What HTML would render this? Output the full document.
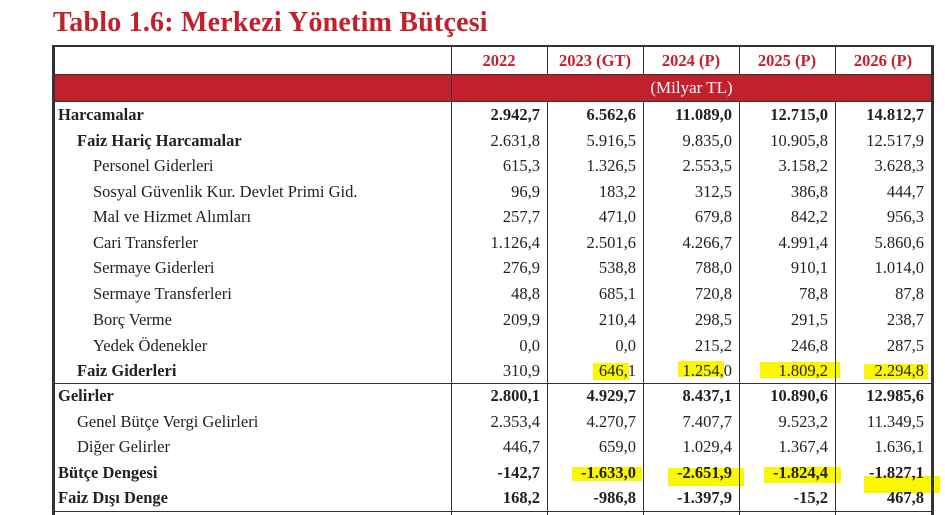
<!DOCTYPE html>
<html><head><meta charset="utf-8"><style>
body{margin:0;width:945px;height:515px;background:#fff;position:relative;overflow:hidden;font-family:"Liberation Serif",serif;color:#222}
.t{position:absolute;left:53px;top:7px;font-size:28px;font-weight:bold;color:#c3202e;letter-spacing:0.2px}
.l{position:absolute;background:#333}
.hl{position:absolute;background:#fbf700}
.r{position:absolute;left:54px;width:878px;height:25.5px;font-size:16.5px;line-height:25.5px}
.r span{position:absolute;top:0}
.lab{left:4px}
.v{text-align:right;width:88px}
.b{font-weight:bold}
.hd{position:absolute;top:47px;height:28px;line-height:28px;font-size:16.5px;font-weight:bold;color:#c3202e;text-align:center;width:96px}
</style></head><body>
<div class="t">Tablo 1.6: Merkezi Yönetim Bütçesi</div>
<div style="position:absolute;left:54px;top:75px;width:878px;height:26px;background:#c3202e"></div>
<div style="position:absolute;left:451px;top:75px;width:481px;height:26px;line-height:26px;color:#fff;text-align:center;font-size:17px">(Milyar TL)</div>
<div class="hl" style="left:593px;top:363px;width:36px;height:17px"></div>
<div class="hl" style="left:678px;top:361px;width:46px;height:16px"></div>
<div class="hl" style="left:760px;top:362px;width:80px;height:16px"></div>
<div class="hl" style="left:864px;top:364px;width:64px;height:15px"></div>
<div class="hl" style="left:572px;top:467px;width:70px;height:14px"></div>
<div class="hl" style="left:668px;top:468px;width:76px;height:18px"></div>
<div class="hl" style="left:764px;top:467px;width:77px;height:16px"></div>
<div class="hl" style="left:864px;top:476px;width:76px;height:17px"></div>
<div class="l" style="left:52px;top:45px;width:882px;height:2px"></div>
<div class="l" style="left:52px;top:45px;width:3px;height:470px"></div>
<div class="l" style="left:931px;top:45px;width:3px;height:470px"></div>
<div class="l" style="left:54px;top:74px;width:878px;height:1px"></div>
<div class="l" style="left:54px;top:101px;width:878px;height:1px"></div>
<div class="l" style="left:54px;top:383px;width:878px;height:1px"></div>
<div class="l" style="left:54px;top:511px;width:878px;height:1px"></div>
<div class="l" style="left:451px;top:47px;width:1px;height:468px"></div>
<div class="l" style="left:547px;top:47px;width:1px;height:28px"></div>
<div class="l" style="left:643px;top:47px;width:1px;height:28px"></div>
<div class="l" style="left:739px;top:47px;width:1px;height:28px"></div>
<div class="l" style="left:835px;top:47px;width:1px;height:28px"></div>
<div class="l" style="left:547px;top:101px;width:1px;height:414px"></div>
<div class="l" style="left:643px;top:101px;width:1px;height:414px"></div>
<div class="l" style="left:739px;top:101px;width:1px;height:414px"></div>
<div class="l" style="left:835px;top:101px;width:1px;height:414px"></div>
<div class="hd" style="left:451px">2022</div>
<div class="hd" style="left:547px">2023 (GT)</div>
<div class="hd" style="left:643px">2024 (P)</div>
<div class="hd" style="left:739px">2025 (P)</div>
<div class="hd" style="left:835px">2026 (P)</div>

<div class="r b" style="top:102px"><span class="lab">Harcamalar</span><span class="v" style="left:398px">2.942,7</span><span class="v" style="left:494px">6.562,6</span><span class="v" style="left:590px">11.089,0</span><span class="v" style="left:686px">12.715,0</span><span class="v" style="left:782px">14.812,7</span></div>
<div class="r" style="top:127.5px"><span class="lab b" style="left:23px">Faiz Hariç Harcamalar</span><span class="v" style="left:398px">2.631,8</span><span class="v" style="left:494px">5.916,5</span><span class="v" style="left:590px">9.835,0</span><span class="v" style="left:686px">10.905,8</span><span class="v" style="left:782px">12.517,9</span></div>
<div class="r" style="top:153px"><span class="lab" style="left:39px">Personel Giderleri</span><span class="v" style="left:398px">615,3</span><span class="v" style="left:494px">1.326,5</span><span class="v" style="left:590px">2.553,5</span><span class="v" style="left:686px">3.158,2</span><span class="v" style="left:782px">3.628,3</span></div>
<div class="r" style="top:178.5px"><span class="lab" style="left:39px">Sosyal Güvenlik Kur. Devlet Primi Gid.</span><span class="v" style="left:398px">96,9</span><span class="v" style="left:494px">183,2</span><span class="v" style="left:590px">312,5</span><span class="v" style="left:686px">386,8</span><span class="v" style="left:782px">444,7</span></div>
<div class="r" style="top:204px"><span class="lab" style="left:39px">Mal ve Hizmet Alımları</span><span class="v" style="left:398px">257,7</span><span class="v" style="left:494px">471,0</span><span class="v" style="left:590px">679,8</span><span class="v" style="left:686px">842,2</span><span class="v" style="left:782px">956,3</span></div>
<div class="r" style="top:229.5px"><span class="lab" style="left:39px">Cari Transferler</span><span class="v" style="left:398px">1.126,4</span><span class="v" style="left:494px">2.501,6</span><span class="v" style="left:590px">4.266,7</span><span class="v" style="left:686px">4.991,4</span><span class="v" style="left:782px">5.860,6</span></div>
<div class="r" style="top:255px"><span class="lab" style="left:39px">Sermaye Giderleri</span><span class="v" style="left:398px">276,9</span><span class="v" style="left:494px">538,8</span><span class="v" style="left:590px">788,0</span><span class="v" style="left:686px">910,1</span><span class="v" style="left:782px">1.014,0</span></div>
<div class="r" style="top:281px"><span class="lab" style="left:39px">Sermaye Transferleri</span><span class="v" style="left:398px">48,8</span><span class="v" style="left:494px">685,1</span><span class="v" style="left:590px">720,8</span><span class="v" style="left:686px">78,8</span><span class="v" style="left:782px">87,8</span></div>
<div class="r" style="top:306.5px"><span class="lab" style="left:39px">Borç Verme</span><span class="v" style="left:398px">209,9</span><span class="v" style="left:494px">210,4</span><span class="v" style="left:590px">298,5</span><span class="v" style="left:686px">291,5</span><span class="v" style="left:782px">238,7</span></div>
<div class="r" style="top:332.5px"><span class="lab" style="left:39px">Yedek Ödenekler</span><span class="v" style="left:398px">0,0</span><span class="v" style="left:494px">0,0</span><span class="v" style="left:590px">215,2</span><span class="v" style="left:686px">246,8</span><span class="v" style="left:782px">287,5</span></div>
<div class="r" style="top:357.5px"><span class="lab b" style="left:23px">Faiz Giderleri</span><span class="v" style="left:398px">310,9</span><span class="v" style="left:494px">646,1</span><span class="v" style="left:590px">1.254,0</span><span class="v" style="left:686px">1.809,2</span><span class="v" style="left:782px">2.294,8</span></div>
<div class="r b" style="top:383px"><span class="lab">Gelirler</span><span class="v" style="left:398px">2.800,1</span><span class="v" style="left:494px">4.929,7</span><span class="v" style="left:590px">8.437,1</span><span class="v" style="left:686px">10.890,6</span><span class="v" style="left:782px">12.985,6</span></div>
<div class="r" style="top:408.5px"><span class="lab" style="left:23px">Genel Bütçe Vergi Gelirleri</span><span class="v" style="left:398px">2.353,4</span><span class="v" style="left:494px">4.270,7</span><span class="v" style="left:590px">7.407,7</span><span class="v" style="left:686px">9.523,2</span><span class="v" style="left:782px">11.349,5</span></div>
<div class="r" style="top:434px"><span class="lab" style="left:23px">Diğer Gelirler</span><span class="v" style="left:398px">446,7</span><span class="v" style="left:494px">659,0</span><span class="v" style="left:590px">1.029,4</span><span class="v" style="left:686px">1.367,4</span><span class="v" style="left:782px">1.636,1</span></div>
<div class="r b" style="top:459.5px"><span class="lab">Bütçe Dengesi</span><span class="v" style="left:398px">-142,7</span><span class="v" style="left:494px">-1.633,0</span><span class="v" style="left:590px">-2.651,9</span><span class="v" style="left:686px">-1.824,4</span><span class="v" style="left:782px">-1.827,1</span></div>
<div class="r b" style="top:485px"><span class="lab">Faiz Dışı Denge</span><span class="v" style="left:398px">168,2</span><span class="v" style="left:494px">-986,8</span><span class="v" style="left:590px">-1.397,9</span><span class="v" style="left:686px">-15,2</span><span class="v" style="left:782px">467,8</span></div>
</body></html>
